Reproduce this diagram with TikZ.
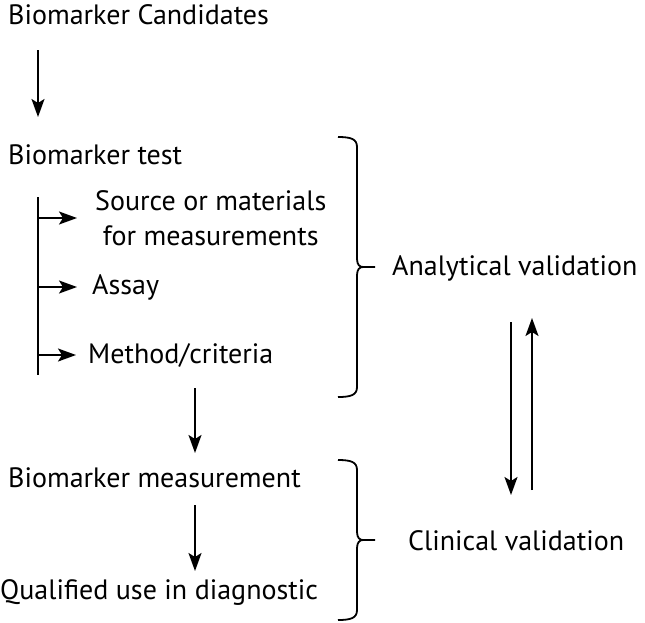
\documentclass[tikz,border=0pt]{standalone}
\usepackage{fontspec}
\setmainfont{PT Sans}
\usetikzlibrary{arrows.meta,calc}
\def\valbrace[#1](#2:#3:#4:#5){\draw[#1] ({#2-19},#3) .. controls ({#2-6},#3) and (#2,{#3+2}) .. (#2,{#3+10}) -- (#2,{(#3+#4)/2-8}) .. controls (#2,{(#3+#4)/2-2}) and ({#2+3},{(#3+#4)/2}) .. ({#2+6},{(#3+#4)/2}) -- (#5,{(#3+#4)/2}) ({#2+6},{(#3+#4)/2}) .. controls ({#2+3},{(#3+#4)/2}) and (#2,{(#3+#4)/2+2}) .. (#2,{(#3+#4)/2+8}) -- (#2,{#4-10}) .. controls (#2,{#4-2}) and ({#2-6},#4) .. ({#2-19},#4);}

\tikzset{
  flow/.style={-{Stealth[length=18pt,width=13pt,inset=4pt]}, line width=1.8pt},
  lbl/.style={anchor=west, inner sep=0pt, font=\fontsize{28}{35}\selectfont}
}

\begin{document}
\begin{tikzpicture}[x=1pt, y=-1pt]
		%%%%% START %%%%%
		\useasboundingbox (0,0) rectangle (645,622);
		
		\node[lbl] (cand) at (8,15) {Biomarker Candidates};
		\node[lbl] (test) at (8,155) {Biomarker test};
		
		\node[lbl, align=center] (src) at (95,218) {Source or materials\\for measurements};
		\node[lbl] (assay) at (92,287) {Assay};
		\node[lbl] (meth) at (88,355) {Method/criteria};
		
		\node[lbl] (anal) at (392,268) {Analytical validation};
		
		\node[lbl] (meas) at (8,478) {Biomarker measurement};
		\node[lbl] (qual) at (0,592) {Qualified use in diagnostic};
		\node[lbl] (clin) at (408,541) {Clinical validation};
		
		\coordinate (bartop) at (38,197);
		\coordinate (barbot) at (38,375);
		\draw[line width=1.8pt] (bartop) -- (barbot);
		\draw[flow] (bartop |- src.west) -- ([xshift=-18pt]src.west);
		\draw[flow] (bartop |- assay.west) -- ([xshift=-15pt]assay.west);
		\draw[flow] (bartop |- meth.west) -- ([xshift=-12pt]meth.west);
		
		\coordinate (a1) at (38,50);
		\coordinate (a2) at (38,117);
		\draw[flow] (a1) -- (a2);
		\coordinate (b1) at (195,388);
		\coordinate (b2) at (195,453);
		\draw[flow] (b1) -- (b2);
		\coordinate (c1) at (195,505);
		\coordinate (c2) at (195,571);
		\draw[flow] (c1) -- (c2);
		
		\coordinate (d1) at (511,322);
		\coordinate (d2) at (511,495);
		\draw[flow] (d1) -- (d2);
		\coordinate (u1) at (532,490);
		\coordinate (u2) at (532,318);
		\draw[flow] (u1) -- (u2);
		
		\valbrace[line width=1.8pt](357:137:397:375);
		\valbrace[line width=1.8pt](357:460:620:375);
		
		%%%%% END %%%%%
	\end{tikzpicture}
\end{document}
